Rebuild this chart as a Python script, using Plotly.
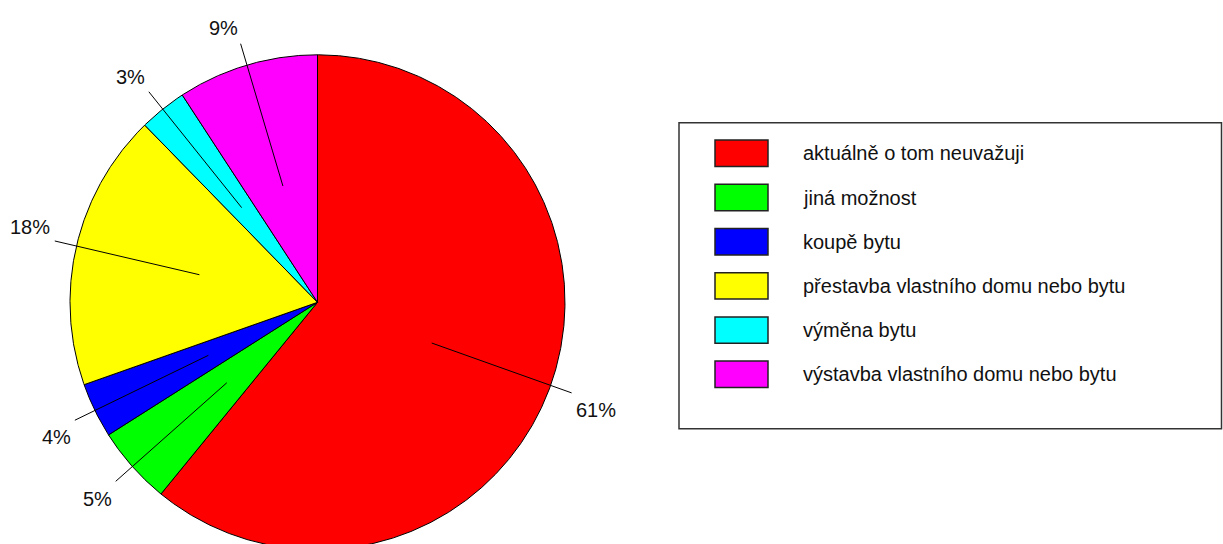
import numpy as np
import plotly.graph_objects as go

# data
categories = ["aktuálně o tom neuvažuji", "jiná možnost", "koupě bytu",
              "přestavba vlastního domu nebo bytu", "výměna bytu",
              "výstavba vlastního domu nebo bytu"]
shares = [60.9, 5.1, 3.6, 18.1, 3.1, 9.2]
colors = ["#ff0000", "#00ff00", "#0000ff", "#ffff00", "#00ffff", "#ff00ff"]

W, H = 1223, 544
R_PX = 247.5           # pie radius in pixels
CX, CY = 317.5, 302.3  # pie centre in pixels (from top-left)

FONT = "Liberation Sans, Arial, sans-serif"

fig = go.Figure()

# slices, clockwise from 12 o'clock like R's pie(clockwise=TRUE)
total = sum(shares)
start = 0.0
mids = []
for name, val, col in zip(categories, shares, colors):
    end = start + val / total * 2 * np.pi
    t = np.linspace(start, end, max(int((end - start) / 0.005), 2))
    xs = np.concatenate([[0], np.sin(t), [0]])
    ys = np.concatenate([[0], np.cos(t), [0]])
    fig.add_trace(go.Scatter(x=xs, y=ys, mode="lines", fill="toself",
                             fillcolor=col, line=dict(color="black", width=1),
                             name=name, hoverinfo="name", showlegend=False))
    mids.append((start + end) / 2)
    start = end

# leader lines and percentage labels (text hangs off the 1.1r point)
for val, m in zip(shares, mids):
    sx, cy = np.sin(m), np.cos(m)
    fig.add_trace(go.Scatter(x=[0.49 * sx, 1.09 * sx],
                             y=[0.49 * cy, 1.09 * cy],
                             mode="lines", line=dict(color="black", width=1),
                             hoverinfo="skip", showlegend=False))
    fig.add_annotation(x=1.1 * sx, y=1.1 * cy,
                       text=f"{round(val / total * 100)}%", showarrow=False,
                       xanchor="right" if sx < 0 else "left",
                       yanchor="middle", yshift=13 if cy > 0 else -16,
                       font=dict(family=FONT, size=20, color="#111"))


def px(x):
    return x / W


def py(y):
    return 1 - y / H


# legend drawn by hand (big R-style swatches)
fig.add_shape(type="rect", xref="paper", yref="paper",
              x0=px(679), x1=px(1221.5), y0=py(122.7), y1=py(428.7),
              line=dict(color="#333", width=1.5), fillcolor="rgba(0,0,0,0)")
for i, (name, col) in enumerate(zip(categories, colors)):
    yc = 153.3 + 44.2 * i
    fig.add_shape(type="rect", xref="paper", yref="paper",
                  x0=px(715), x1=px(768), y0=py(yc - 13.2), y1=py(yc + 13.2),
                  line=dict(color="#222", width=1.5), fillcolor=col)
    fig.add_annotation(xref="paper", yref="paper", x=px(801), y=py(yc),
                       text=name, showarrow=False, xanchor="left",
                       yanchor="middle",
                       font=dict(family=FONT, size=20, color="#111"))

fig.update_layout(
    width=W, height=H,
    margin=dict(l=0, r=0, t=0, b=0),
    paper_bgcolor="white", plot_bgcolor="white",
    xaxis=dict(range=[-CX / R_PX, (W - CX) / R_PX], visible=False,
               fixedrange=True),
    yaxis=dict(range=[-(H - CY) / R_PX, CY / R_PX], visible=False,
               fixedrange=True),
)

fig.write_html("out.html", config={"displayModeBar": False},
               post_script="document.body.style.margin='0';"
                           "document.body.style.overflow='hidden';")
